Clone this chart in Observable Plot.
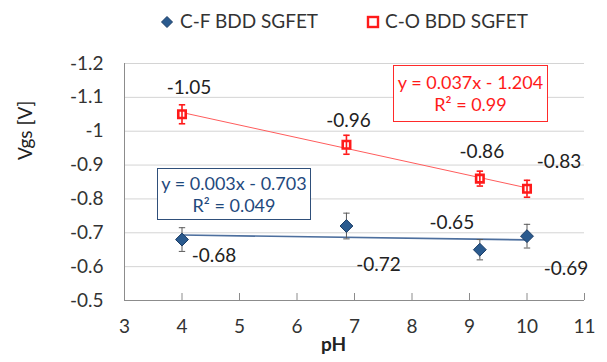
<!DOCTYPE html>
<html><head><meta charset="utf-8">
<script src="https://cdn.jsdelivr.net/npm/d3@7"></script>
<script src="https://cdn.jsdelivr.net/npm/@observablehq/plot@0.6"></script>
<style>
body{margin:0;background:#fff;font-family:Lato,sans-serif;}
#wrap{position:relative;width:607px;height:362px;overflow:hidden;}
#legend{position:relative;height:40px;font-size:19px;color:#333;}
#legend .item{position:absolute;top:9px;line-height:24px;white-space:nowrap;}
#legend svg{position:absolute;}
.box{position:absolute;box-sizing:border-box;text-align:center;font-size:18px;line-height:22px;background:#fff;padding-top:5px;white-space:nowrap;}
.box.red{left:393px;top:65px;width:155px;height:57px;border:1.5px solid #ff2a2a;color:#ff1a1a;}
.box.blue{left:157px;top:168px;width:154px;height:52px;border:1.5px solid #2f4f7a;color:#1f497d;padding-top:3px;}
</style></head><body>
<div id="wrap">
  <div id="legend"></div>
  <div id="chart"></div>
</div>
<script>
// ---- data ----
const pH = [4, 6.86, 9.18, 10];
const vgsCF = [-0.68, -0.72, -0.65, -0.69];
const errCF = [0.035, 0.038, 0.03, 0.035];
const vgsCO = [-1.05, -0.96, -0.86, -0.83];
const errCO = [0.028, 0.028, 0.022, 0.025];
const seriesNames = ["C-F BDD SGFET", "C-O BDD SGFET"];
const xTicks = [3, 4, 5, 6, 7, 8, 9, 10, 11];
const yTicks = [-1.2, -1.1, -1, -0.9, -0.8, -0.7, -0.6, -0.5];
const xLabel = "pH";
const yLabel = "Vgs [V]";
const trendCF = ["y = 0.003x - 0.703", "R² = 0.049"];
const trendCO = ["y = 0.037x - 1.204", "R² = 0.99"];

const cf = pH.map((x, i) => ({pH: x, v: vgsCF[i], e: errCF[i]}));
const co = pH.map((x, i) => ({pH: x, v: vgsCO[i], e: errCO[i]}));

// ---- styles ----
const RED = "#ff1a1a", BLUE = "#2a5a8e";
const capSymbol = {draw(ctx, size) { const r = 3.2; ctx.moveTo(-r, 0); ctx.lineTo(r, 0); }};
const fontSize = 19;
const offCO = [[7, -26], [2, -24], [2, -27], [32, -27]];
const offCF = [[32, 16], [32, 39], [-28, -27], [39, 33]];

const labelMarks = [];
[[co, offCO], [cf, offCF]].forEach(([data, off]) => {
  data.forEach((d, i) => {
    labelMarks.push(Plot.text([d], {x: "pH", y: "v", text: d => String(d.v), dx: off[i][0], dy: off[i][1],
      fontSize, fill: "#222"}));
  });
});

const chart = Plot.plot({
  width: 607, height: 322,
  marginLeft: 124, marginRight: 23, marginTop: 23, marginBottom: 62,
  style: {fontFamily: "Lato, sans-serif", fontSize: fontSize + "px", color: "#333", background: "#fff"},
  x: {domain: [3, 11], label: null},
  y: {domain: [-0.5, -1.2], label: null},
  marks: [
    Plot.gridY(yTicks, {stroke: "#d4d4d4", strokeOpacity: 1}),
    Plot.ruleY([-0.5], {stroke: "#8c8c8c"}),
    Plot.ruleX([3], {stroke: "#8c8c8c"}),
    Plot.axisX(xTicks, {tickSize: 7, dy: -7, tickFormat: () => "", stroke: "#8c8c8c", label: null}),
    Plot.axisX(xTicks, {tickSize: 0, tickPadding: 19, tickFormat: d => String(d), fontSize, fill: "#333", label: null}),
    Plot.axisY(yTicks, {tickSize: 0, tickPadding: 21, tickFormat: d => String(d), fontSize, fill: "#333", label: null}),
    Plot.text([xLabel], {frameAnchor: "bottom", dy: 50, dx: -21, fontWeight: "bold", fontSize, fill: "#222"}),
    Plot.text([yLabel], {frameAnchor: "left", rotate: -90, dx: -99, dy: -22, fontSize, fill: "#222"}),
    // trendlines
    Plot.linearRegressionY(co, {x: "pH", y: "v", stroke: "#ff5c5c", strokeWidth: 1, ci: 0}),
    Plot.linearRegressionY(cf, {x: "pH", y: "v", stroke: "#4d6f9e", strokeWidth: 1.6, ci: 0}),
    // C-F error bars (behind markers)
    Plot.ruleX(cf, {x: "pH", y1: d => d.v - d.e, y2: d => d.v + d.e, stroke: "#5a5a5a", strokeWidth: 1}),
    Plot.dot(cf, {x: "pH", y: d => d.v - d.e, symbol: capSymbol, stroke: "#5a5a5a", strokeWidth: 1}),
    Plot.dot(cf, {x: "pH", y: d => d.v + d.e, symbol: capSymbol, stroke: "#5a5a5a", strokeWidth: 1}),
    Plot.dot(cf, {x: "pH", y: "v", symbol: "diamond2", r: 5.8, fill: BLUE, stroke: "#1c3d66", strokeWidth: 1}),
    // C-O markers then error bars on top
    Plot.dot(co, {x: "pH", y: "v", symbol: "square", r: 4.2, fill: "#fff", stroke: RED, strokeWidth: 2.6}),
    Plot.ruleX(co, {x: "pH", y1: d => d.v - d.e, y2: d => d.v + d.e, stroke: RED, strokeWidth: 1.6}),
    Plot.dot(co, {x: "pH", y: d => d.v - d.e, symbol: capSymbol, stroke: RED, strokeWidth: 1.6}),
    Plot.dot(co, {x: "pH", y: d => d.v + d.e, symbol: capSymbol, stroke: RED, strokeWidth: 1.6}),
    ...labelMarks
  ]
});
document.getElementById("chart").appendChild(chart);

// legend
const legend = document.getElementById("legend");
legend.innerHTML =
  `<svg width="14" height="14" style="left:160px;top:15px"><path d="M7,1.5L12.5,7L7,12.5L1.5,7Z" fill="${BLUE}" stroke="#1c3d66"/></svg>` +
  `<span class="item" style="left:180px">${seriesNames[0]}</span>` +
  `<svg width="14" height="14" style="left:366px;top:15px"><rect x="2" y="2" width="10" height="10" fill="#fff" stroke="${RED}" stroke-width="2.4"/></svg>` +
  `<span class="item" style="left:385px">${seriesNames[1]}</span>`;

// equation boxes
const wrap = document.getElementById("wrap");
const bCO = document.createElement("div"); bCO.className = "box red"; bCO.innerHTML = trendCO.join("<br>"); wrap.appendChild(bCO);
const bCF = document.createElement("div"); bCF.className = "box blue"; bCF.innerHTML = trendCF.join("<br>"); wrap.appendChild(bCF);
</script>
</body></html>
